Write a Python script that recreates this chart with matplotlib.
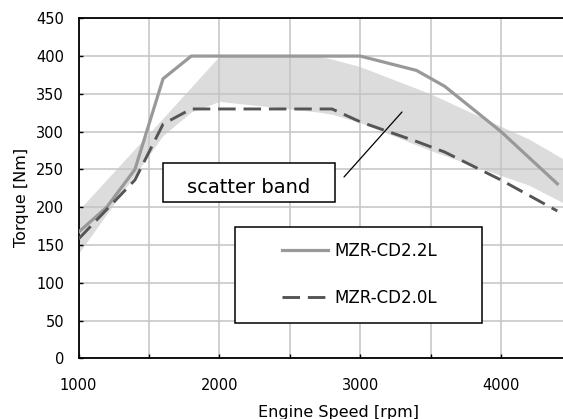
import matplotlib
matplotlib.use("Agg")
import matplotlib.pyplot as plt
from matplotlib.patches import Rectangle

# ---- data ----
rpm_22 = [1000, 1200, 1400, 1600, 1800, 3000, 3400, 3600, 4000, 4400]
torque_22 = [167, 200, 250, 370, 400, 400, 381, 360, 300, 231]

rpm_20 = [1000, 1200, 1400, 1600, 1800, 2800, 3000, 3400, 3600, 4000, 4400]
torque_20 = [158, 197, 236, 310, 330, 330, 313, 287, 273, 236, 195]

band_rpm = [1000, 1600, 1800, 2000, 2700, 2800, 3000, 3500, 4000, 4200, 4450]
band_upper = [196, 318, 359, 400, 400, 396, 386, 350, 307, 290, 263]
band_lower = [139, 295, 326, 340, 326, 323, 312, 275, 242, 229, 205]

x_ticks = [1000, 1500, 2000, 2500, 3000, 3500, 4000]
x_tick_labels = ["1000", "", "2000", "", "3000", "", "4000"]
y_ticks = list(range(0, 451, 50))

series_names = ["MZR-CD2.2L", "MZR-CD2.0L"]
band_label = "scatter band"
pointer_from = (2885, 240)
pointer_to = (3297, 326)

# ---- figure ----
W, H = 563, 419
fig = plt.figure(figsize=(W / 100, H / 100), dpi=100)
ax_left_px, ax_top_px, ax_w_px, ax_h_px = 78.6, 18.3, 492.8, 340.0
ax = fig.add_axes([ax_left_px / W, 1 - (ax_top_px + ax_h_px) / H, ax_w_px / W, ax_h_px / H])

ax.fill_between(band_rpm, band_lower, band_upper, color="#dcdcdc", linewidth=0, zorder=0.2)
ax.plot(rpm_22, torque_22, color="#999999", lw=2.3, solid_joinstyle="miter", zorder=3, label=series_names[0])
ax.plot(rpm_20, torque_20, color="#555555", lw=2.1, dashes=[6.0, 2.7], zorder=3, label=series_names[1])

ax.set_xlim(1000, 4500)
ax.set_ylim(0, 450)
ax.set_xticks(x_ticks)
ax.set_xticklabels(x_tick_labels)
ax.set_yticks(y_ticks)
ax.set_axisbelow(True)
ax.grid(True, color="#c4c4c4", lw=1.1)
ax.tick_params(direction="in", length=3, width=1, labelsize=10.5)
ax.tick_params(axis="x", pad=14.5)
ax.tick_params(axis="y", pad=10.5)
for s in ax.spines.values():
    s.set_linewidth(1.3)
    s.set_color("black")

ax.set_xlabel("Engine Speed [rpm]", fontsize=11.5)
ax.set_ylabel("Torque [Nm]", fontsize=11.5)
ax.xaxis.set_label_coords(0.528, -0.137)
ax.yaxis.set_label_coords(-0.101, 0.474)

# scatter band annotation
ax.add_patch(Rectangle((0.172, 0.4606), 0.5195 - 0.172, 0.5753 - 0.4606, transform=ax.transAxes,
                       facecolor="white", edgecolor="black", lw=1.1, zorder=4))
ax.text(0.3458, 0.4853, band_label, transform=ax.transAxes, ha="center", va="baseline",
        fontsize=14, zorder=5)
ax.annotate("", xy=pointer_to, xytext=pointer_from,
            arrowprops=dict(arrowstyle="-", color="black", lw=0.9, shrinkA=0, shrinkB=0), zorder=5)

# legend
ax.add_patch(Rectangle((0.3168, 0.1029), 0.8192 - 0.3168, 0.3853 - 0.1029, transform=ax.transAxes,
                       facecolor="white", edgecolor="black", lw=1.1, zorder=4))
leg = ax.legend(loc="upper left", bbox_to_anchor=(0.4121, 0.342), frameon=False, fontsize=12,
                handlelength=2.8, handletextpad=0.34, labelspacing=1.73, borderpad=0,
                borderaxespad=0)
leg.set_zorder(6)

fig.savefig("out.png", dpi=100)
